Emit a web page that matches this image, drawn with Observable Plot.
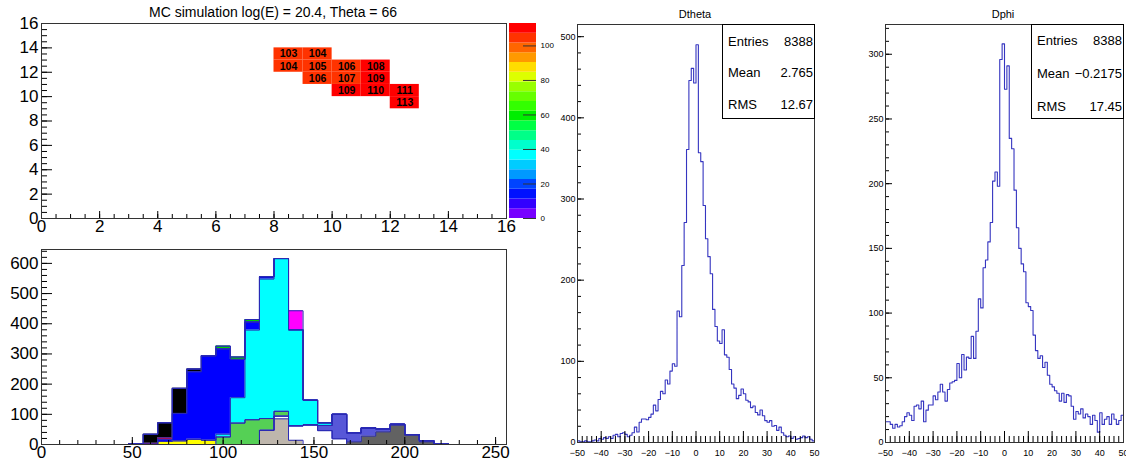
<!DOCTYPE html>
<html><head><meta charset="utf-8">
<script src="https://cdn.jsdelivr.net/npm/d3@7"></script>
<script src="https://cdn.jsdelivr.net/npm/@observablehq/plot@0.6"></script>
<style>
body{margin:0;background:#fff;}
#c{position:relative;width:1126px;height:464px;overflow:hidden;font-family:"Liberation Sans",Arial,Helvetica,sans-serif;background:#fff;}
.pad{position:absolute;top:0;left:0;}
.t{position:absolute;white-space:nowrap;color:#000;transform:translate(-50%,-50%);}
.stats{position:absolute;border:1px solid #000;background:#fff;box-sizing:border-box;font-size:13px;}
.stats span{position:absolute;white-space:nowrap;transform:translateY(-50%);}
</style></head><body><div id="c"></div>
<script>
// ---------- data: 2D map (top-left) ----------
const cellX = [8, 9, 8, 9, 10, 11, 9, 10, 11, 10, 11, 12, 12];
const cellY = [13, 13, 12, 12, 12, 12, 11, 11, 11, 10, 10, 10, 9];
const cellV = [103, 104, 104, 105, 106, 108, 106, 107, 109, 109, 110, 111, 113];
const zMax = 113;
const nContours = 20;
const paletteColors = ["#7700ff","#3300ff","#0011ff","#0044ff","#0099ff","#00ccff","#00ffff","#00ffcc","#00ff88","#00ff44",
                       "#00ee00","#33ff00","#66ff00","#99ff00","#ddff00","#ffdd00","#ff9900","#ff6600","#ff3300","#ff0000"];
const paletteTicks = [0, 20, 40, 60, 80, 100];
const mapTitle = "MC simulation log(E) = 20.4, Theta = 66";

// ---------- data: stacked histogram (bottom-left), bins of width 8 starting at 48 ----------
const stackRange = [0, 256];
const stackBinWidth = 8;
const stackFirstBin = 48;
const layerNames  = ["gray","white","darkgray","slate","lightgreen","yellow","cyan","blue","red","black","green","magenta"];
const layerColors = ["#beb6ac","#ffffff","#626262","#5757d8","#55d055","#ffff00","#00ffff","#0000ff","#e00030","#000000","#00d000","#ff00ff"];
//                   48 56 64 72  80  88  96 104 112 120 128 136 144 152 160 168 176 184 192 200 208 216
const sGray       = [0, 0, 0, 0,  0,  0,  0,  0,  0, 47, 85, 14,  0,  0,  0,  0,  0,  0,  0,  0,  0,  0];
const sWhite      = [0, 0, 0, 0,  0,  0,  0,  0,  0,  0,  9, 48, 65, 46, 19,  0,  0,  0,  0,  0,  0,  0];
const sDarkGray   = [0, 0, 0, 0,  0,  0,  0,  0,  0,  0,  0,  0,  0,  0,  0,  9, 28, 42, 64, 31,  9,  0];
const sSlate      = [0, 0, 0, 0,  0,  0,  0,  0,  0,  0,  0,  0,  0, 17, 81, 30, 27, 10,  3,  2,  4,  3];
const sLightGreen = [0, 0, 0, 0,  0,  0, 25, 71, 82, 39, 16,  0,  0,  0,  0,  0,  0,  0,  0,  0,  0,  0];
const sYellow     = [0, 0,10,12, 17, 14,  0,  0,  0,  0,  0,  0,  0,  0,  0,  0,  0,  0,  0,  0,  0,  0];
const sCyan       = [0, 0, 0, 0,  0,  0,  9, 84,297,462,506,318, 82,  9,  0,  0,  0,  0,  0,  0,  0,  0];
const sBlue       = [0, 0, 6,91,224,280,283,127, 27,  8,  0,  0,  0,  0,  0,  0,  0,  0,  0,  0,  0,  0];
const sRed        = [3, 4, 6, 0,  0,  0,  0,  0,  0,  0,  0,  0,  0,  0,  0,  0,  0,  0,  0,  0,  0,  0];
const sBlack      = [0,30,50,83,  9,  0,  0,  0,  0,  0,  0,  0,  0,  0,  0,  0,  0,  0,  0,  0,  0,  0];
const sGreen      = [0, 0, 0, 0,  0,  0,  9,  8,  8,  0,  0,  0,  0,  0,  0,  0,  0,  0,  0,  0,  0,  0];
const sMagenta    = [0, 0, 0, 0,  0,  0,  0,  0,  0,  0,  0, 63,  0,  0,  0,  0,  0,  0,  0,  0,  0,  0];
const stackLayers = [sGray, sWhite, sDarkGray, sSlate, sLightGreen, sYellow, sCyan, sBlue, sRed, sBlack, sGreen, sMagenta];
const stackYMax = 646;

// ---------- data: Dtheta, 100 bins from -50 to 50 ----------
const dthetaCounts = [2,1,1,2,1,1,2,3,2,5, 4,6,5,7,5,9,10,7,11,12, 10,7,9,12,19,13,25,29,29,28,
  31,35,46,39,53,63,60,77,72,88, 97,94,162,155,218,271,361,446,461,443, 490,357,346,292,251,229,208,164,143,125,
  122,139,108,105,90,72,67,54,58,66, 60,52,50,43,45,37,34,40,33,27, 25,27,20,21,15,19,12,9,7,8,
  5,7,4,5,6,8,6,7,4,2];
const dthetaStats = [["Entries","8388"],["Mean","2.765"],["RMS","12.67"]];
const dthetaYMax = 515;

// ---------- data: Dphi, 100 bins from -50 to 50 ----------
const dphiCounts = [16,16,14,11,14,12,13,16,20,23, 21,17,28,29,26,32,16,25,29,29, 36,33,39,45,39,32,41,46,47,48,
  61,50,68,56,66,65,82,65,86,111, 104,135,141,155,170,202,209,198,296,308, 273,291,235,227,195,166,150,138,132,108,
  105,102,83,71,65,67,58,62,52,45, 43,40,38,32,38,31,37,36,28,18, 24,22,26,19,22,20,14,21,17,8,
  23,14,18,20,14,22,18,14,17,21];
const dphiStats = [["Entries","8388"],["Mean","\u22120.2175"],["RMS","17.45"]];
const dphiYMax = 323;
const histRange = [-50, 50];

// ---------- helpers ----------
const FONT = '"Liberation Sans", Arial, Helvetica, sans-serif';
const C = document.getElementById("c");
function place(node, left, top) {
  const d = document.createElement("div");
  d.className = "pad"; d.style.left = left + "px"; d.style.top = top + "px";
  d.appendChild(node); C.appendChild(d);
}
function label(text, x, y, size) {
  const d = document.createElement("div");
  d.className = "t"; d.textContent = text;
  d.style.left = x + "px"; d.style.top = y + "px"; d.style.fontSize = size + "px";
  C.appendChild(d);
}
function statsBox(rows, left, top, w, h, rowY) {
  const d = document.createElement("div");
  d.className = "stats";
  Object.assign(d.style, {left: left + "px", top: top + "px", width: w + "px", height: h + "px"});
  rows.forEach(([k, v], i) => {
    const a = document.createElement("span"); a.textContent = k;
    a.style.left = "5px"; a.style.top = rowY[i] + "px";
    const b = document.createElement("span"); b.textContent = v;
    b.style.right = "1px"; b.style.top = rowY[i] + "px";
    d.appendChild(a); d.appendChild(b);
  });
  C.appendChild(d);
}
function rootAxes({xMajor, xMinor, yMajor, yMinor, fw, fh, xt, yt, xPad, yPad}) {
  return [
    Plot.tickX(xMinor, {x: d => d, insetTop: fh - xt[1], stroke: "#000"}),
    Plot.tickX(xMajor, {x: d => d, insetTop: fh - xt[0], stroke: "#000"}),
    Plot.tickY(yMinor, {y: d => d, insetRight: fw - yt[1], stroke: "#000"}),
    Plot.tickY(yMajor, {y: d => d, insetRight: fw - yt[0], stroke: "#000"}),
    Plot.axisX({ticks: xMajor, tickSize: 0, tickPadding: xPad, label: null}),
    Plot.axisY({ticks: yMajor, tickSize: 0, tickPadding: yPad, label: null}),
    Plot.frame({stroke: "#333"})
  ];
}
const thresholds = d3.range(1, nContours).map(i => i * zMax / nContours);

// ---------- pad 1: 2D map ----------
const cells = cellV.map((v, i) => ({x: cellX[i], y: cellY[i], v}));
place(Plot.plot({
  width: 530, height: 240, marginLeft: 41, marginRight: 24, marginTop: 23, marginBottom: 22,
  style: {background: "transparent", overflow: "visible", fontFamily: FONT, fontSize: "17px"},
  x: {domain: [0, 16]}, y: {domain: [0, 16]},
  color: {type: "threshold", domain: thresholds, range: paletteColors},
  marks: [
    Plot.rect(cells, {x1: "x", x2: d => d.x + 1, y1: "y", y2: d => d.y + 1, fill: "v"}),
    Plot.text(cells, {x: d => d.x + 0.5, y: d => d.y + 0.5, text: "v", fontWeight: "bold", fontSize: 10.5, fill: "#000"}),
    ...rootAxes({xMajor: d3.range(0, 17, 2), xMinor: d3.range(0, 16.01, 0.5), yMajor: d3.range(0, 17, 2), yMinor: d3.range(0, 16.01, 0.5),
      fw: 465, fh: 195, xt: [7, 4], yt: [11, 6], xPad: 1, yPad: 3})
  ]
}), 0, 0);

// palette
const bands = d3.range(nContours).map(i => ({lo: i * zMax / nContours, hi: (i + 1) * zMax / nContours}));
place(Plot.plot({
  width: 60, height: 240, marginLeft: 9, marginRight: 24, marginTop: 23, marginBottom: 22,
  style: {background: "transparent", overflow: "visible", fontFamily: FONT, fontSize: "8px"},
  y: {domain: [0, zMax]},
  color: {type: "threshold", domain: thresholds, range: paletteColors},
  marks: [
    Plot.rect(bands, {y1: "lo", y2: "hi", fill: "lo"}),
    Plot.tickY(paletteTicks, {y: d => d, insetLeft: 14, stroke: "#333"}),
    Plot.axisY({ticks: paletteTicks, anchor: "right", tickSize: 0, tickPadding: 4, label: null})
  ]
}), 500, 0);
label(mapTitle, 273, 12, 14);

// ---------- pad 2: stacked histogram ----------
const nStackBins = (stackRange[1] - stackRange[0]) / stackBinWidth;
const binStarts = d3.range(nStackBins).map(j => stackRange[0] + j * stackBinWidth);
const valueAt = (arr, j) => { const k = (binStarts[j] - stackFirstBin) / stackBinWidth; return k >= 0 && k < arr.length ? arr[k] : 0; };
const areaPts = [], outlinePts = [];
let prev = binStarts.map(() => 0);
stackLayers.forEach((arr, li) => {
  const cur = binStarts.map((s, j) => prev[j] + valueAt(arr, j));
  const pts = binStarts.map((s, j) => ({x: s, y1: prev[j], y2: cur[j], layer: layerNames[li]}));
  pts.push({x: stackRange[1], y1: prev[nStackBins - 1], y2: cur[nStackBins - 1], layer: layerNames[li]});
  areaPts.push(...pts);
  outlinePts.push(...pts.map(p => ({x: p.x, y: p.y2, layer: p.layer})));
  prev = cur;
});
place(Plot.plot({
  width: 530, height: 234, marginLeft: 41, marginRight: 24, marginTop: 19, marginBottom: 20,
  style: {background: "transparent", overflow: "visible", fontFamily: FONT, fontSize: "17px"},
  x: {domain: stackRange}, y: {domain: [0, stackYMax]},
  color: {domain: layerNames, range: layerColors},
  marks: [
    Plot.areaY(areaPts, {x: "x", y1: "y1", y2: "y2", z: "layer", fill: "layer", curve: "step-after"}),
    Plot.lineY(outlinePts, {x: "x", y: "y", z: "layer", curve: "step-after", stroke: "#2a2ab4", strokeWidth: 1}),
    ...rootAxes({xMajor: d3.range(0, 251, 50), xMinor: d3.range(0, 257, 10), yMajor: d3.range(0, 601, 100), yMinor: d3.range(0, 641, 20),
      fw: 465, fh: 195, xt: [7, 4], yt: [11, 6], xPad: 1, yPad: 3})
  ]
}), 0, 230);

// ---------- pads 3 & 4: 1D histograms ----------
function histPlot(counts, yMax, yMajorStep, yMinorStep, left, width, mL, mR) {
  const pts = counts.map((c, i) => ({x: histRange[0] + i, y: c}));
  pts.push({x: histRange[1], y: counts[counts.length - 1]});
  const fw = width - mL - mR;
  place(Plot.plot({
    width, height: 464, marginLeft: mL, marginRight: mR, marginTop: 24, marginBottom: 22,
    style: {background: "transparent", overflow: "visible", fontFamily: FONT, fontSize: "9px"},
    x: {domain: histRange}, y: {domain: [0, yMax]},
    marks: [
      Plot.lineY(pts, {x: "x", y: "y", curve: "step-after", stroke: "#3535c0", strokeWidth: 1.1}),
      ...rootAxes({xMajor: d3.range(-50, 51, 10), xMinor: d3.range(-50, 51, 2),
        yMajor: d3.range(0, yMax, yMajorStep), yMinor: d3.range(0, yMax, yMinorStep),
        fw, fh: 418, xt: [11, 6], yt: [7, 4], xPad: 7, yPad: 2})
    ]
  }), left, 0);
}
histPlot(dthetaCounts, dthetaYMax, 100, 20, 540, 290, 37, 16);
histPlot(dphiCounts, dphiYMax, 50, 10, 840, 286, 45, 3);
label("Dtheta", 695, 14, 11);
label("Dphi", 1003, 14, 11);
statsBox(dthetaStats, 722, 24, 93, 95, [16, 47, 79]);
statsBox(dphiStats, 1031, 24, 93, 95, [15, 48, 81]);
</script></body></html>
